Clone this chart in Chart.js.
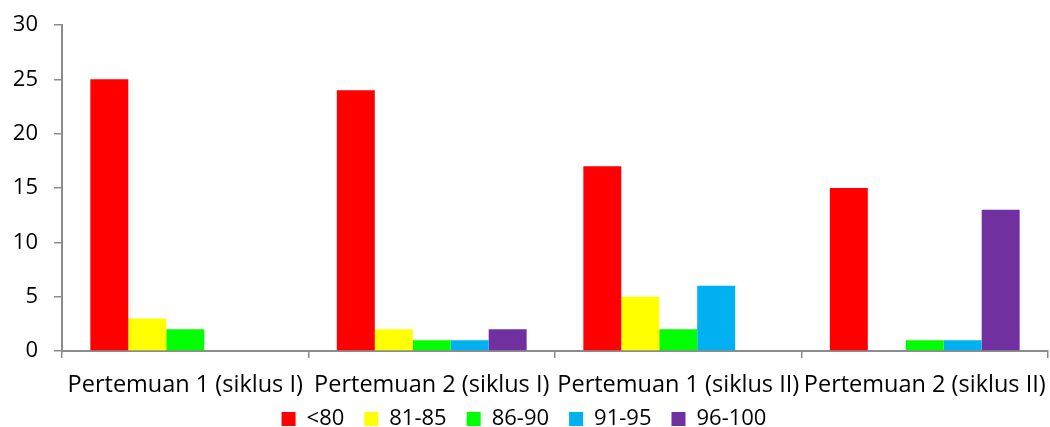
<!DOCTYPE html>
<html>
<head>
<meta charset="utf-8">
<script src="https://cdn.jsdelivr.net/npm/chart.js@4.4.1/dist/chart.umd.min.js"></script>
<style>
  html, body { margin: 0; padding: 0; background: #fff; }
  #wrap { width: 1050px; height: 427px; }
</style>
</head>
<body>
<div id="wrap"><canvas id="grafik"></canvas></div>
<script>
  // data
  const kategori = ['Pertemuan 1 (siklus I)', 'Pertemuan 2 (siklus I)', 'Pertemuan 1 (siklus II)', 'Pertemuan 2 (siklus II)'];
  const kurang80 = [25, 24, 17, 15];
  const nilai81_85 = [3, 2, 5, 0];
  const nilai86_90 = [2, 1, 2, 1];
  const nilai91_95 = [0, 1, 6, 1];
  const nilai96_100 = [0, 2, 0, 13];
  const yTicks = [0, 5, 10, 15, 20, 25, 30];

  const abu = '#8c8c8c';

  function seri(label, data, warna) {
    return {
      label: label,
      data: data,
      backgroundColor: warna,
      borderWidth: 0,
      barPercentage: 1,
      categoryPercentage: 0.77
    };
  }

  // label sumbu x dipotong (clip) sesuai kotak skala, jadi kotaknya dipanjangkan sedikit ke bawah
  const lebarkanClipX = {
    id: 'lebarkanClipX',
    afterLayout(chart) {
      const sx = chart.scales.x;
      if (sx) sx.bottom = sx.top + 70;
    }
  };

  const ctx = document.getElementById('grafik').getContext('2d');
  const chart = new Chart(ctx, {
    type: 'bar',
    data: {
      labels: kategori,
      datasets: [
        seri('<80', kurang80, '#ff0000'),
        seri('81-85', nilai81_85, '#ffff00'),
        seri('86-90', nilai86_90, '#00ff00'),
        seri('91-95', nilai91_95, '#00b0f0'),
        seri('96-100', nilai96_100, '#7030a0')
      ]
    },
    plugins: [lebarkanClipX],
    options: {
      responsive: true,
      maintainAspectRatio: false,
      animation: false,
      // bottom negatif supaya legenda turun mendekati tepi bawah
      layout: { padding: { top: 25, right: 2, left: 0, bottom: -13 } },
      plugins: {
        tooltip: { enabled: false },
        legend: {
          position: 'bottom',
          labels: {
            font: { family: 'Open Sans', size: 22, lineHeight: 1 },
            color: '#000',
            boxWidth: 14,
            boxHeight: 14,
            padding: 20
          }
        }
      },
      scales: {
        x: {
          afterFit: function (axis) {
            axis.height = 37;
            axis.paddingLeft = 0;
            axis.paddingRight = 0;
          },
          grid: {
            display: true,
            offset: true,
            drawOnChartArea: false,
            drawTicks: true,
            tickLength: 7,
            color: abu,
            lineWidth: 1.5
          },
          border: { color: abu, width: 2 },
          ticks: {
            font: { family: 'Open Sans', size: 23.5 },
            color: '#000',
            maxRotation: 0,
            autoSkip: false,
            padding: 13
          }
        },
        y: {
          min: 0,
          max: 30,
          afterBuildTicks: function (axis) {
            axis.ticks = yTicks.map(v => ({ value: v }));
          },
          afterFit: function (axis) {
            axis.width = 62;
            axis.paddingTop = 0;
            axis.paddingBottom = 0;
          },
          grid: {
            display: true,
            drawOnChartArea: false,
            drawTicks: true,
            tickLength: 8,
            color: abu,
            lineWidth: 1.5
          },
          border: { color: abu, width: 2 },
          ticks: {
            font: { family: 'Open Sans', size: 22 },
            color: '#000',
            padding: 16
          }
        }
      }
    }
  });
</script>
</body>
</html>
